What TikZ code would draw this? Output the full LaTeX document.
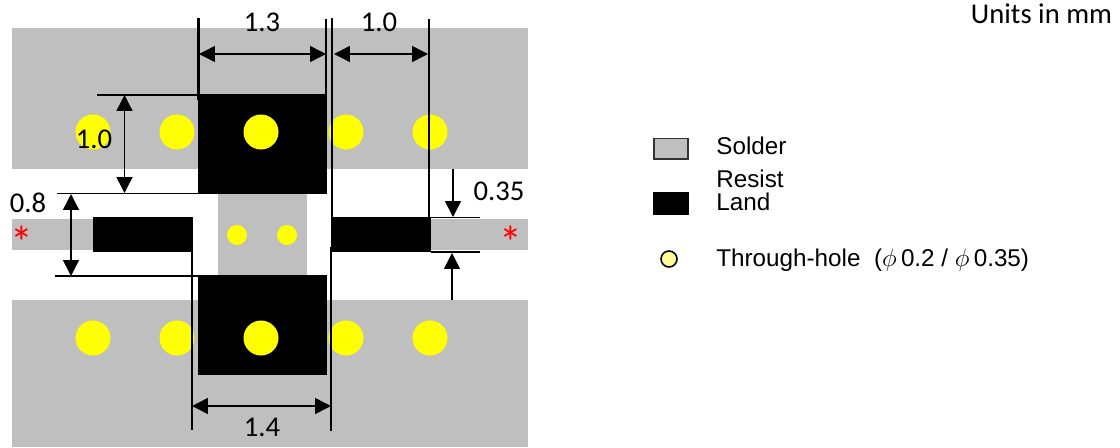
\documentclass[tikz,border=0pt]{standalone}
\usepackage{fontspec}
\setmainfont{Carlito}
\newfontfamily\legendfont{Liberation Sans}
\usetikzlibrary{arrows.meta}
\definecolor{soldergray}{HTML}{BFBFBF}
\definecolor{holeyellow}{HTML}{FFFF00}
\definecolor{keyyellow}{HTML}{FFFF99}
\tikzset{
	dimline/.style={black, line width=1pt},
	dimedge/.style={black, line width=1.4pt},
	dimarrow/.style={black, line width=0.85pt, >={Triangle[length=9pt, width=9pt]}},
	dimlabel/.style={font=\fontsize{16.3}{19}\selectfont, inner sep=0pt},
	keylabel/.style={font=\legendfont\fontsize{13.8}{16}\selectfont, anchor=west, inner sep=0pt},
	starlabel/.style={font=\fontsize{26}{28}\selectfont, text=red, inner sep=0pt}
}
\begin{document}
\begin{tikzpicture}[x=0.02cm, y=-0.02cm]
	\useasboundingbox (0, 0) rectangle (1120, 447);

	% solder
	\fill[soldergray]	(12, 28) rectangle (528, 169);
	\fill[soldergray]	(12, 300) rectangle (528, 447);
	\fill[soldergray]	(12, 219) rectangle (100, 250);
	\fill[soldergray]	(425, 219) rectangle (528, 250);
	\fill[soldergray]	(218, 190) rectangle (307, 280);

	% land
	\fill[black]	(198, 94) rectangle (327, 194);
	\fill[black]	(198, 275) rectangle (327, 375);
	\fill[black]	(93, 217) rectangle (193, 252);
	\fill[black]	(331, 217) rectangle (431, 252);

	% through-holes
	\fill[holeyellow]	(93, 132) circle (17.5);
	\fill[holeyellow]	(177, 132) circle (17.5);
	\fill[holeyellow]	(261, 132) circle (17.5);
	\fill[holeyellow]	(346, 132) circle (17.5);
	\fill[holeyellow]	(430, 132) circle (17.5);
	\fill[holeyellow]	(93, 338) circle (17.5);
	\fill[holeyellow]	(177, 338) circle (17.5);
	\fill[holeyellow]	(261, 338) circle (17.5);
	\fill[holeyellow]	(346, 338) circle (17.5);
	\fill[holeyellow]	(430, 338) circle (17.5);
	\fill[holeyellow]	(237, 235) circle (10);
	\fill[holeyellow]	(287, 235) circle (10);

	% extension lines
	\draw[dimedge]	(198.5, 18) to (198.5, 100);
	\draw[dimedge]	(326, 19) to (326, 94);
	\draw[dimedge]	(332, 18) to (332, 217);
	\draw[dimedge]	(429, 19) to (429, 217);
	\draw[dimedge]	(192, 252) to (192, 430);
	\draw[dimedge]	(331, 247) to (331, 431);
	\draw[dimline]	(97, 95) to (198, 95);
	\draw[dimline]	(57, 193.5) to (198, 193.5);
	\draw[dimline]	(55, 276) to (198, 276);
	\draw[dimline]	(431, 217.5) to (480, 217.5);
	\draw[dimline]	(431, 252) to (480, 252);

	% dimension arrows
	\draw[<->, dimarrow]	(199, 54) to (326, 54);
	\draw[<->, dimarrow]	(334, 54) to (428, 54);
	\draw[<->, dimarrow]	(124.5, 95) to (124.5, 193);
	\draw[<->, dimarrow]	(71, 194) to (71, 276);
	\draw[<->, dimarrow]	(192, 406) to (331, 406);
	\draw[->, dimarrow]	(453, 169) to (453, 217);
	\draw[->, dimarrow]	(452, 300) to (452, 253);

	\node[dimlabel] (labelLandWidth) at (262, 22) {1.3};
	\node[dimlabel] (labelLandGap) at (379, 22) {1.0};
	\node[dimlabel] (labelLandHeight) at (94, 139) {1.0};
	\node[dimlabel] (labelPadGap) at (28, 203) {0.8};
	\node[dimlabel] (labelPadSpan) at (262, 427) {1.4};
	\node[dimlabel] (labelPadHeight) at (499, 191) {0.35};
	\node[dimlabel] (labelUnits) at (1041.5, 14) {Units in mm};
	\node[starlabel] (starLeft) at (22, 242) {*};
	\node[starlabel] (starRight) at (511, 242) {*};

	% legend
	\filldraw[fill=soldergray, draw=black!80, line width=0.8pt]	(654, 138.5) rectangle (688, 159);
	\fill[black]	(653, 192) rectangle (689, 215);
	\filldraw[fill=keyyellow, draw=black, line width=0.9pt]	(669, 259) circle (8);

	\node[keylabel] (keySolder) at (716, 146) {Solder};
	\node[keylabel] (keyResist) at (716, 179) {Resist};
	\node[keylabel] (keyLand) at (716, 202) {Land};
	\node[keylabel] (keyHole) at (716, 260) {Through-hole\ \ ($\phi\,$0.2 / $\phi\,$0.35)};
\end{tikzpicture}
\end{document}
